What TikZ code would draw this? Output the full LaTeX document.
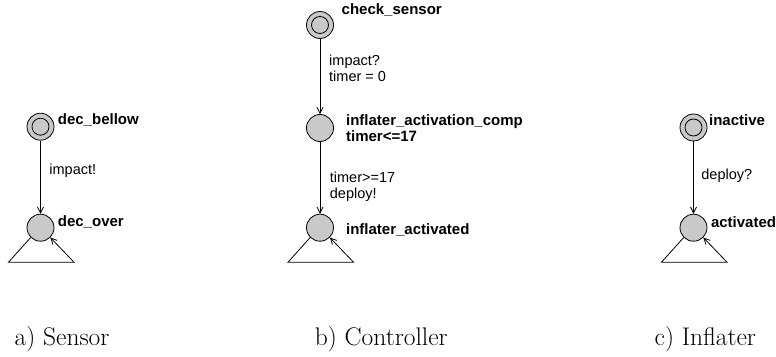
\documentclass[tikz,border=0pt]{standalone}
\usepackage{fontspec}
\setsansfont{Liberation Sans}
\usetikzlibrary{arrows.meta,positioning}
\begin{document}
\begin{tikzpicture}[x=1pt,y=1pt,>={Straight Barb[length=6pt,width=6pt]},
loc/.style={circle,draw,fill=black!21,minimum size=27pt,inner sep=0pt,line width=0.8pt},
init/.style={loc,path picture={\draw[line width=0.8pt] (path picture bounding box.center) circle (8.5pt);}},
lab/.style={font=\fontsize{15}{15.7}\sffamily\bfseries,inner sep=0pt,align=left},
elab/.style={font=\fontsize{14.5}{16}\sffamily,inner sep=0pt,align=left,anchor=base west},
trans/.style={->,line width=0.8pt},
subcap/.style={font=\fontsize{25.5}{30}\selectfont,inner sep=0pt,anchor=base west}]
\useasboundingbox (0,0) rectangle (776,356);
\node[init] (bellow) at (40.5,229.3) {};
\node[loc,below=73.2pt of bellow] (over) {};
\node[lab,right=3.3pt of bellow,anchor=base west,yshift=1.7pt] (bellowl) {dec\_bellow};
\node[lab,right=3.3pt of over,anchor=base west,yshift=1.5pt] (overl) {dec\_over};
\node[elab] (impo) at ([shift={(8.7,-48.3)}]bellow.center) {impact!};
\coordinate[below left=34.5pt and 32pt of over.center] (overa);
\coordinate[below right=34.5pt and 33.5pt of over.center] (overb);
\draw[trans] (bellow)--(over);
\draw[trans] (over.225)--(overa)--(overb)--(over.-45);
\node[init] (check) at (320,331) {};
\node[loc,below=75.2pt of check] (comp) {};
\node[loc,below=71.9pt of comp] (actd) {};
\node[lab,right=7.6pt of check,anchor=base west,yshift=10pt] (checkl) {check\_sensor};
\node[lab,right=12pt of comp,anchor=base west,yshift=-13.7pt] (compl) {inflater\_activation\_comp\\timer<=17};
\node[lab,right=12pt of actd,anchor=base west,yshift=-6.6pt] (actdl) {inflater\_activated};
\node[elab] (impi) at ([shift={(9,-56.7)}]check.center) {impact?\\timer = 0};
\node[elab] (dep) at ([shift={(9.7,-71)}]comp.center) {timer>=17\\deploy!};
\coordinate[below left=34.5pt and 32pt of actd.center] (actda);
\coordinate[below right=34.5pt and 33.5pt of actd.center] (actdb);
\draw[trans] (check)--(comp);
\draw[trans] (comp)--(actd);
\draw[trans] (actd.225)--(actda)--(actdb)--(actd.-45);
\node[init] (inact) at (693.5,228.5) {};
\node[loc,below=72.4pt of inact] (actv) {};
\node[lab,right=1.5pt of inact,anchor=base west,yshift=1.5pt] (inactl) {inactive};
\node[lab,right=3.4pt of actv,anchor=base west,yshift=0.5pt] (actvl) {activated};
\node[elab] (depi) at ([shift={(7.7,-52.5)}]inact.center) {deploy?};
\coordinate[below left=34.5pt and 32pt of actv.center] (actva);
\coordinate[below right=34.5pt and 33.5pt of actv.center] (actvb);
\draw[trans] (inact)--(actv);
\draw[trans] (actv.225)--(actva)--(actvb)--(actv.-45);
\node[subcap] (capa) at (14.5,11) {a) Sensor};
\node[subcap] (capb) at (314.7,11) {b) Controller};
\node[subcap] (capc) at (654.5,11) {c) Inflater};
\end{tikzpicture}
\end{document}
